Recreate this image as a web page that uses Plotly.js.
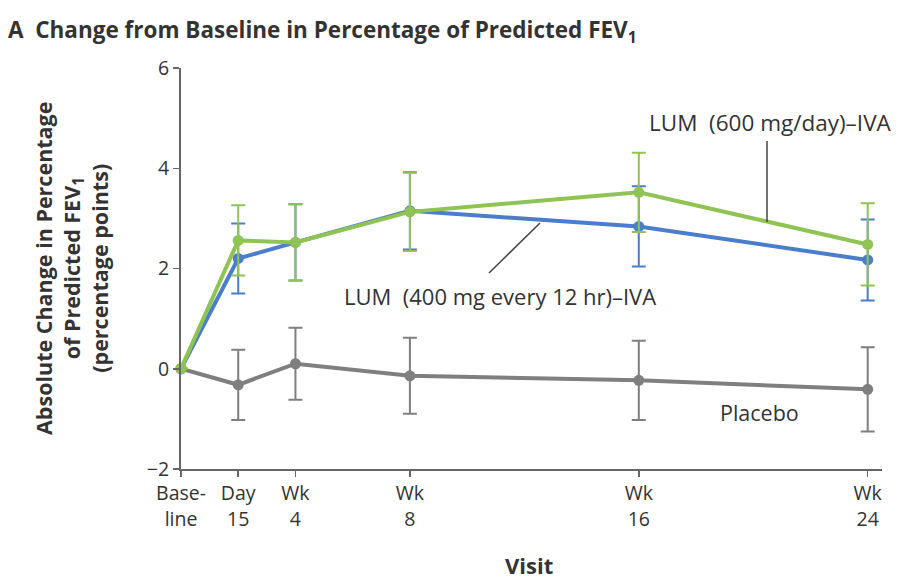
<!DOCTYPE html>
<html>
<head>
<meta charset="utf-8">
<script src="https://cdn.plot.ly/plotly-3.0.1.min.js"></script>
<style>body{margin:0;background:#fff}#chart{width:898px;height:582px}</style>
</head>
<body>
<div id="chart"></div>
<script>
// Visit positions in weeks, with tick labels
const visitWeeks = [0, 2, 4, 8, 16, 24];
const visitLabels = ["Base-<br>line", "Day<br>15", "Wk<br>4", "Wk<br>8", "Wk<br>16", "Wk<br>24"];

// LUM (600 mg/day)-IVA
const lum600 = [0, 2.56, 2.52, 3.13, 3.52, 2.48];
const lum600Err = [0, 0.70, 0.76, 0.78, 0.79, 0.82];
// LUM (400 mg every 12 hr)-IVA
const lum400 = [0, 2.2, 2.52, 3.15, 2.84, 2.17];
const lum400Err = [0, 0.70, 0.76, 0.77, 0.80, 0.81];
// Placebo
const placebo = [0, -0.32, 0.1, -0.14, -0.23, -0.41];
const placeboErr = [0, 0.70, 0.72, 0.76, 0.79, 0.84];

const green = "#8fc353", blue = "#4a7dcc", gray = "#7f7f7f";
const txt = "#333333";
const fam = "Open Sans, sans-serif";

function series(y, err, color, name) {
  return {
    x: visitWeeks, y: y, name: name, type: "scatter", mode: "lines+markers",
    line: {color: color, width: 4},
    marker: {color: color, size: 11},
    error_y: {type: "data", array: err, visible: true, color: color, thickness: 2, width: 7},
    cliponaxis: false, showlegend: false, hoverinfo: "x+y"
  };
}

const data = [
  series(placebo, placeboErr, gray, "Placebo"),
  series(lum400, lum400Err, blue, "LUM (400 mg every 12 hr)–IVA"),
  series(lum600, lum600Err, green, "LUM (600 mg/day)–IVA")
];

const W = 701, H = 401, L = 181, B = 469;
const px = (x) => (x - L) / W;
const py = (y) => (B - y) / H;

const layout = {
  width: 898, height: 582,
  margin: {l: 181, r: 16, t: 68, b: 113},
  paper_bgcolor: "#fff", plot_bgcolor: "#fff",
  font: {family: fam, color: txt, size: 19},
  xaxis: {
    range: [0, 24.5], tickvals: visitWeeks, ticktext: visitLabels,
    showgrid: false, zeroline: false, showline: true, linecolor: "#666", linewidth: 2,
    ticks: "outside", ticklen: 6, tickcolor: "#666", tickwidth: 1.5,
    tickfont: {size: 19.5, color: txt, family: fam}
  },
  yaxis: {
    range: [-2, 6], tickvals: [-2, 0, 2, 4, 6], ticktext: ["−2", "0", "2", "4", "6"],
    showgrid: false, zeroline: false, showline: true, linecolor: "#666", linewidth: 2,
    ticks: "outside", ticklen: 6, tickcolor: "#666", tickwidth: 1.5,
    tickfont: {size: 19.5, color: txt, family: fam}
  },
  shapes: [
    {type: "line", xref: "paper", yref: "paper", x0: px(767), x1: px(767),
     y0: py(141), y1: py(222), line: {color: "#444", width: 1.5}},
    {type: "line", xref: "paper", yref: "paper", x0: px(540), x1: px(489),
     y0: py(223), y1: py(273), line: {color: "#444", width: 1.5}}
  ],
  annotations: [
    {xref: "paper", yref: "paper", x: px(6), y: py(31), xanchor: "left", yanchor: "middle",
     text: "<b>A  Change from Baseline in Percentage of Predicted FEV<sub>1</sub></b>",
     showarrow: false, font: {size: 22.5, color: txt, family: fam}},
    {xref: "paper", yref: "paper", x: px(71), y: py(269), xanchor: "center", yanchor: "middle",
     textangle: -90, align: "center",
     text: "<b>Absolute Change in Percentage<br>of Predicted FEV<sub>1</sub><br>(percentage points)</b>",
     showarrow: false, font: {size: 21.5, color: txt, family: fam}},
    {xref: "paper", yref: "paper", x: px(529), y: py(565), xanchor: "center", yanchor: "middle",
     text: "<b>Visit</b>", showarrow: false, font: {size: 22, color: txt, family: fam}},
    {xref: "paper", yref: "paper", x: px(770), y: py(122), xanchor: "center", yanchor: "middle",
     text: "LUM  (600 mg/day)–IVA", showarrow: false, font: {size: 22.5, color: txt, family: fam}},
    {xref: "paper", yref: "paper", x: px(500), y: py(296), xanchor: "center", yanchor: "middle",
     text: "LUM  (400 mg every 12 hr)–IVA", showarrow: false, font: {size: 22, color: txt, family: fam}},
    {xref: "paper", yref: "paper", x: px(759), y: py(412), xanchor: "center", yanchor: "middle",
     text: "Placebo", showarrow: false, font: {size: 21.5, color: txt, family: fam}}
  ]
};

Plotly.newPlot("chart", data, layout, {displayModeBar: false, staticPlot: true});
</script>
</body>
</html>
